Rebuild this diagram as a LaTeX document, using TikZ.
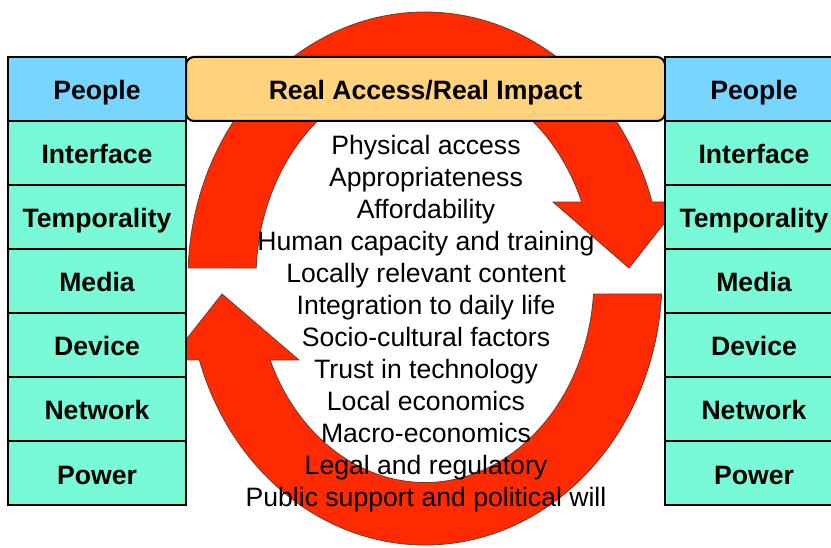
\documentclass[tikz,border=0pt]{standalone}
\usepackage{fontspec}
\setmainfont{Liberation Sans}
\usetikzlibrary{positioning}
\definecolor{peopleblue}{RGB}{119,213,255}
\definecolor{layergreen}{RGB}{119,250,213}
\definecolor{bannergold}{RGB}{255,211,123}
\definecolor{cyclered}{RGB}{255,42,0}
\definecolor{cycleedge}{RGB}{105,60,50}
\tikzset{
  layer/.style = {draw=black, line width=2pt, fill=layergreen,
    minimum width=178pt, minimum height=64pt, inner sep=0pt, outer sep=0pt,
    text height=24pt, text depth=2pt,
    font=\fontsize{26.6}{30}\selectfont\bfseries},
  toplayer/.style = {layer, fill=peopleblue},% top of the stack
  banner/.style = {layer, fill=bannergold, rounded corners=8pt,
    minimum width=479pt},
  cyclearrow/.style = {fill=cyclered, draw=cycleedge, line width=0.8pt},
  factors/.style = {align=center, font=\fontsize{26.6}{32}\selectfont}
}

\begin{document}
\begin{tikzpicture}[x=1pt, y=1pt]
	\useasboundingbox (0,0) rectangle (831,547);
	\coordinate (hub) at (425,268.5);
	% upper half of the cycle, arrow head on the right
	\path[cyclearrow] ([shift={(177.74:237pt and 266.5pt)}]hub)
		arc[start angle=177.74, end angle=16.7, x radius=237pt, y radius=266.5pt]
		-- (681,345) -- (629,279) -- (553,345)
		-- ([shift={(22.0:169pt and 204pt)}]hub)
		arc[start angle=22.0, end angle=177.05, x radius=169pt, y radius=204pt]
		-- cycle;
	% lower half, arrow head on the left
	\path[cyclearrow] ([shift={(-3.33:237pt and 266.5pt)}]hub)
		arc[start angle=-3.33, end angle=-162.2, x radius=237pt, y radius=266.5pt]
		-- (170,187) -- (222,253) -- (299,187)
		-- ([shift={(-156.45:169pt and 204pt)}]hub)
		arc[start angle=-156.45, end angle=-4.36, x radius=169pt, y radius=204pt]
		-- cycle;
	\node[factors] (factors) at (426,223.5) {Physical access\\ Appropriateness\\
		Affordability\\ Human capacity and training\\ Locally relevant content\\
		Integration to daily life\\ Socio-cultural factors\\ Trust in technology\\
		Local economics\\ Macro-economics\\ Legal and regulatory\\
		Public support and political will};
	% left stack
	\node[toplayer] (lpeople) at (97,458) {People};
	\node[layer, below=0pt of lpeople] (linterface) {Interface};
	\node[layer, below=0pt of linterface] (ltemporality) {Temporality};
	\node[layer, below=0pt of ltemporality] (lmedia) {Media};
	\node[layer, below=0pt of lmedia] (ldevice) {Device};
	\node[layer, below=0pt of ldevice] (lnetwork) {Network};
	\node[layer, below=0pt of lnetwork] (lpower) {Power};
	\node[banner, right=0pt of lpeople] (banner) {Real Access/Real Impact};
	% right stack
	\node[toplayer, right=0pt of banner] (rpeople) {People};
	\node[layer, below=0pt of rpeople] (rinterface) {Interface};
	\node[layer, below=0pt of rinterface] (rtemporality) {Temporality};
	\node[layer, below=0pt of rtemporality] (rmedia) {Media};
	\node[layer, below=0pt of rmedia] (rdevice) {Device};
	\node[layer, below=0pt of rdevice] (rnetwork) {Network};
	\node[layer, below=0pt of rnetwork] (rpower) {Power};
\end{tikzpicture}
\end{document}
